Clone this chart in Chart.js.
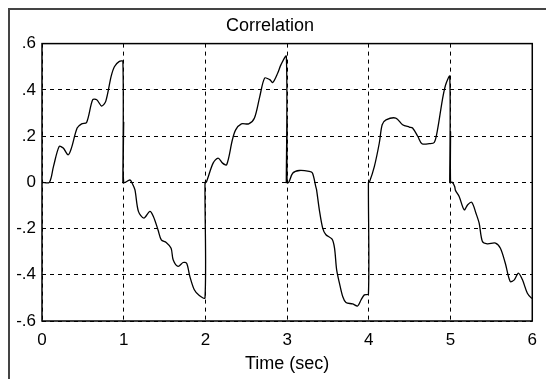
<!DOCTYPE html>
<html>
<head>
<meta charset="utf-8">
<script src="https://cdn.jsdelivr.net/npm/chart.js@4"></script>
<style>
  html, body { margin: 0; padding: 0; background: #fff; overflow: hidden; }
  #wrap { position: relative; width: 546px; height: 379px; overflow: hidden; }
  #frame { position: absolute; left: 8px; top: 8px; width: 600px; height: 400px; border: 2px solid #444; }
  canvas { position: absolute; left: 0; top: 0; }
</style>
</head>
<body>
<div id="wrap">
  <div id="frame"></div>
  <canvas id="corrChart" width="546" height="379"></canvas>
</div>
<script>
// Correlation trace (time in sec, value)
const times = [
  0, 0.09, 0.14, 0.21, 0.26, 0.32, 0.36, 0.43, 0.485, 0.546, 0.62, 0.67, 0.73, 0.78, 0.846, 0.886, 0.947, 0.99, 0.99, 1.0, 1.0,
  1.076, 1.105, 1.137, 1.18, 1.247, 1.32, 1.363, 1.42, 1.46, 1.52, 1.58, 1.605, 1.666, 1.727, 1.77, 1.81, 1.864, 1.925, 1.995, 1.995,
  2.01, 2.094, 2.155, 2.21, 2.26, 2.33, 2.37, 2.44, 2.53, 2.6, 2.665, 2.725, 2.787, 2.824, 2.885, 2.925, 2.99, 2.99, 3.0, 3.0,
  3.02, 3.07, 3.15, 3.27, 3.31, 3.35, 3.36, 3.394, 3.435, 3.475, 3.55, 3.58, 3.606, 3.64, 3.68, 3.72, 3.8, 3.863, 3.904, 3.945, 3.995, 3.995,
  4.006, 4.067, 4.128, 4.163, 4.21, 4.33, 4.413, 4.495, 4.535, 4.6, 4.65, 4.74, 4.8, 4.84, 4.9, 4.94, 4.99, 4.99, 5.0, 5.0,
  5.02, 5.05, 5.06, 5.105, 5.167, 5.21, 5.26, 5.31, 5.35, 5.39, 5.45, 5.55, 5.61, 5.67, 5.73, 5.78, 5.83, 5.88, 5.94, 5.99, 6.0
];
const correlation = [
  0, 0, 0.068, 0.155, 0.148, 0.119, 0.148, 0.235, 0.253, 0.259, 0.357, 0.357, 0.33, 0.35, 0.458, 0.5, 0.523, 0.523, 0, 0.26, 0,
  0.01, -0.005, -0.032, -0.126, -0.155, -0.126, -0.148, -0.206, -0.249, -0.26, -0.285, -0.335, -0.364, -0.347, -0.35, -0.408, -0.465, -0.49, -0.5, 0,
  0, 0.083, 0.105, 0.083, 0.076, 0.184, 0.227, 0.253, 0.253, 0.278, 0.371, 0.451, 0.444, 0.432, 0.473, 0.509, 0.545, 0, 0.27, 0,
  0, 0.04, 0.051, 0.047, 0.04, -0.018, -0.032, -0.119, -0.198, -0.227, -0.246, -0.285, -0.379, -0.436, -0.494, -0.52, -0.526, -0.535, -0.509, -0.487, -0.483, 0,
  0, 0.068, 0.17, 0.249, 0.27, 0.278, 0.249, 0.239, 0.235, 0.198, 0.167, 0.167, 0.172, 0.227, 0.357, 0.422, 0.458, 0, 0.22, 0,
  0, -0.018, -0.035, -0.061, -0.119, -0.097, -0.087, -0.133, -0.177, -0.256, -0.266, -0.263, -0.285, -0.35, -0.429, -0.422, -0.393, -0.422, -0.48, -0.501, -0.5
];

const xTickValues = [0, 1, 2, 3, 4, 5, 6];
const xTickLabels = ['0', '1', '2', '3', '4', '5', '6'];
const yTickValues = [-0.6, -0.4, -0.2, 0, 0.2, 0.4, 0.6];
const yTickLabels = ['-.6', '-.4', '-.2', '0', '.2', '.4', '.6'];

const tickFont = { family: 'Liberation Sans', size: 17 };
const titleFont = { family: 'Liberation Sans', size: 18, weight: 'normal' };

// solid box round the plot area
const boxPlugin = {
  id: 'plotBox',
  afterDraw(chart) {
    const { ctx, chartArea: a } = chart;
    ctx.save();
    ctx.strokeStyle = '#000';
    ctx.lineWidth = 1.5;
    ctx.strokeRect(a.left, a.top, a.right - a.left, a.bottom - a.top);
    ctx.restore();
  }
};

const ctx = document.getElementById('corrChart').getContext('2d');
new Chart(ctx, {
  type: 'line',
  data: {
    datasets: [{
      data: times.map((t, i) => ({ x: t, y: correlation[i] })),
      borderColor: '#000',
      borderWidth: 1.3,
      pointRadius: 0,
      tension: 0.3,
      fill: false
    }]
  },
  options: {
    responsive: false,
    animation: false,
    devicePixelRatio: 1,
    layout: { padding: { left: 6, right: 12, top: 0, bottom: 0 } },
    plugins: {
      legend: { display: false },
      tooltip: { enabled: false },
      title: {
        display: true,
        text: 'Correlation',
        color: '#000',
        font: titleFont,
        padding: { top: 15, bottom: 7 }
      }
    },
    scales: {
      x: {
        type: 'linear',
        min: 0,
        max: 6,
        afterBuildTicks: s => { s.ticks = xTickValues.map(v => ({ value: v })); },
        afterFit: s => { s.height = 58; },
        ticks: {
          callback: (v, i) => xTickLabels[i],
          color: '#000',
          font: tickFont,
          padding: 9,
          maxRotation: 0,
          autoSkip: false
        },
        grid: { color: '#000', lineWidth: 1, drawTicks: false },
        border: { display: false, dash: [4, 4] },
        title: {
          display: true,
          text: 'Time (sec)',
          color: '#000',
          font: titleFont,
          padding: { top: 0, bottom: 4 }
        }
      },
      y: {
        min: -0.6,
        max: 0.6,
        afterBuildTicks: s => { s.ticks = yTickValues.map(v => ({ value: v })); },
        afterFit: s => { s.width = 36; },
        ticks: {
          callback: (v, i) => yTickLabels[i],
          color: '#000',
          font: tickFont,
          padding: 6,
          autoSkip: false
        },
        grid: { color: '#000', lineWidth: 1, drawTicks: false },
        border: { display: false, dash: [4, 4] }
      }
    }
  },
  plugins: [boxPlugin]
});
</script>
</body>
</html>
